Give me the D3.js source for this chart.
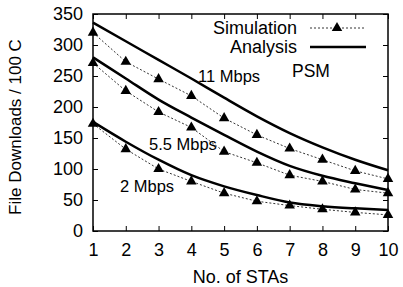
<!DOCTYPE html>
<html>
<head>
<meta charset="utf-8">
<script src="https://cdn.jsdelivr.net/npm/d3@7"></script>
<style>
  body { margin: 0; background: #fff; }
  text { font-family: "Liberation Sans", Arial, Helvetica, sans-serif; fill: #000; }
</style>
</head>
<body>
<div id="chart"></div>
<script>
// number of stations on the x axis
const stas = [1, 2, 3, 4, 5, 6, 7, 8, 9, 10]
const yTicks = [0, 50, 100, 150, 200, 250, 300, 350]

// simulation points (dotted line + triangles)
const sim11 = [320, 273, 245, 218, 182, 155, 133, 115, 97, 84]
const sim55 = [271, 226, 192, 167, 128, 110, 90, 80, 67, 61]
const sim2 = [173, 132, 100, 80, 61, 48, 41, 35, 30, 26]

// analysis curves (solid)
const ana11 = [336, 306, 276, 246, 215, 185, 158, 135, 115, 98]
const ana55 = [280, 246, 212, 183, 155, 128, 105, 89, 77, 66]
const ana2 = [176, 144, 115, 90, 72, 58, 46, 40, 36.5, 34]

const rateLabels = ['11 Mbps', '5.5 Mbps', '2 Mbps']

const svgWidth = 403
const svgHeight = 287
const margin = { top: 14, right: 15, bottom: 56, left: 93 }
const width = svgWidth - margin.left - margin.right
const height = svgHeight - margin.top - margin.bottom

const svg = d3
  .select('#chart')
  .append('svg')
  .attr('width', svgWidth)
  .attr('height', svgHeight)

const g = svg.append('g').attr('transform', `translate(${margin.left},${margin.top})`)

const x = d3.scaleLinear().domain([1, 10]).range([0, width])
const y = d3.scaleLinear().domain([0, 350]).range([height, 0])

// axes, ticks pointing inward on all four sides
function styleAxis(sel) {
  sel.select('.domain').remove()
  sel.selectAll('.tick line').attr('stroke', '#000').attr('stroke-width', 1)
  sel.selectAll('.tick text').style('font-size', '18px').attr('fill', '#000')
}

g.append('g')
  .attr('transform', `translate(0,${height})`)
  .call(d3.axisBottom(x).tickValues(stas).tickFormat(d3.format('d')).tickSizeInner(-5).tickPadding(12))
  .call(styleAxis)

g.append('g')
  .call(d3.axisLeft(y).tickValues(yTicks).tickSizeInner(-5).tickPadding(10))
  .call(styleAxis)

g.append('g')
  .call(d3.axisTop(x).tickValues(stas).tickFormat('').tickSizeInner(-5))
  .call(styleAxis)

g.append('g')
  .attr('transform', `translate(${width},0)`)
  .call(d3.axisRight(y).tickValues(yTicks).tickFormat('').tickSizeInner(-5))
  .call(styleAxis)

g.append('rect')
  .attr('width', width)
  .attr('height', height)
  .attr('fill', 'none')
  .attr('stroke', '#000')
  .attr('stroke-width', 1.5)

// lines
const line = d3
  .line()
  .x((d, i) => x(stas[i]))
  .y((d) => y(d))
  .curve(d3.curveMonotoneX)

const simLine = d3
  .line()
  .x((d, i) => x(stas[i]))
  .y((d) => y(d))

const triangle = d3.symbol().type(d3.symbolTriangle).size(48)

;[ana11, ana55, ana2].forEach((s) => {
  g.append('path')
    .datum(s)
    .attr('fill', 'none')
    .attr('stroke', '#000')
    .attr('stroke-width', 2.5)
    .attr('d', line)
})

;[sim11, sim55, sim2].forEach((s) => {
  g.append('path')
    .datum(s)
    .attr('fill', 'none')
    .attr('stroke', '#000')
    .attr('stroke-width', 0.8)
    .attr('stroke-dasharray', '2,2')
    .attr('d', simLine)

  g.selectAll(null)
    .data(s)
    .enter()
    .append('path')
    .attr('d', triangle)
    .attr('transform', (d, i) => `translate(${x(stas[i])},${y(d)})`)
    .attr('fill', '#000')
})

// curve annotations
const annot = [
  { t: rateLabels[0], x: 198, y: 82 },
  { t: rateLabels[1], x: 149, y: 149.5 },
  { t: rateLabels[2], x: 120, y: 192 },
]
svg
  .selectAll('.annot')
  .data(annot)
  .enter()
  .append('text')
  .attr('class', 'annot')
  .attr('x', (d) => d.x)
  .attr('y', (d) => d.y)
  .style('font-size', '16.5px')
  .text((d) => d.t)

svg.append('text').attr('x', 292).attr('y', 77).style('font-size', '17.5px').text('PSM')

// legend
const legend = svg.append('g')
legend.append('text').attr('x', 297).attr('y', 34).attr('text-anchor', 'end').style('font-size', '18px').text('Simulation')
legend.append('text').attr('x', 297).attr('y', 53).attr('text-anchor', 'end').style('font-size', '18px').text('Analysis')
legend.append('line')
  .attr('x1', 310).attr('x2', 365).attr('y1', 28).attr('y2', 28)
  .attr('stroke', '#000').attr('stroke-width', 0.8).attr('stroke-dasharray', '2,2')
legend.append('path').attr('d', triangle).attr('transform', 'translate(337,28)').attr('fill', '#000')
legend.append('line')
  .attr('x1', 310).attr('x2', 366).attr('y1', 47).attr('y2', 47)
  .attr('stroke', '#000').attr('stroke-width', 2.5)

// axis titles
svg.append('text')
  .attr('x', margin.left + width / 2)
  .attr('y', 283)
  .attr('text-anchor', 'middle')
  .style('font-size', '18px')
  .text('No. of STAs')

svg.append('text')
  .attr('transform', `translate(21,127) rotate(-90)`)
  .attr('text-anchor', 'middle')
  .style('font-size', '17px')
  .text('File Downloads / 100 C')
</script>
</body>
</html>
